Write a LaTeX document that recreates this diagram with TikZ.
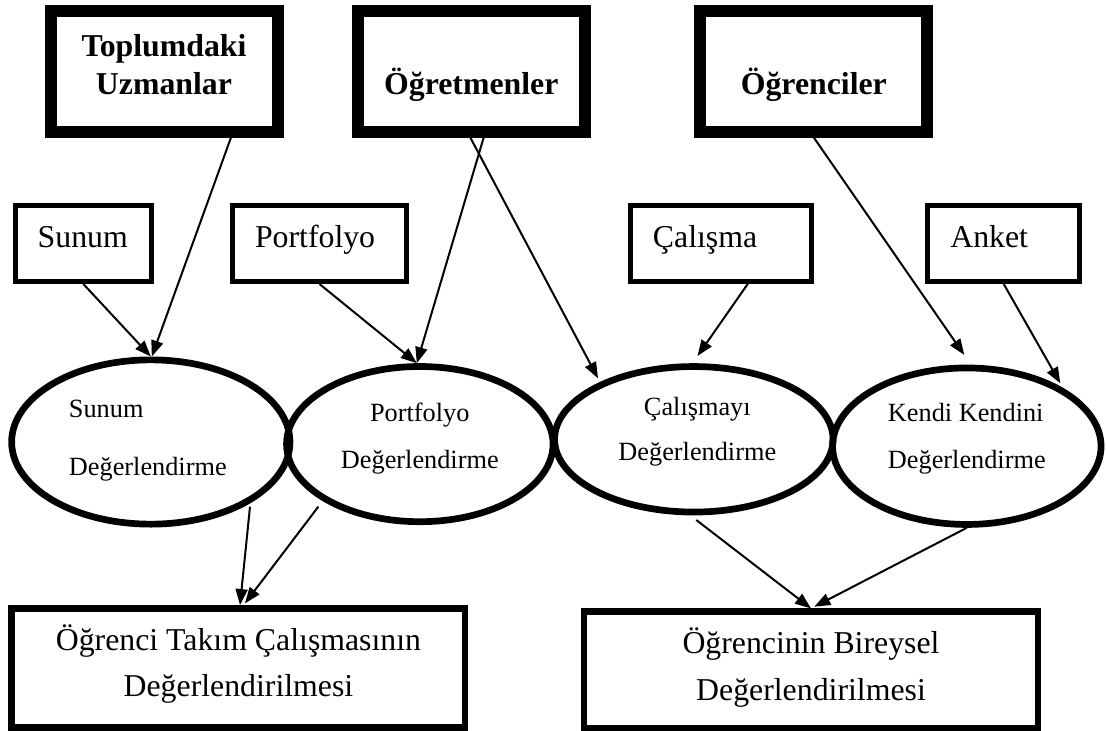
\documentclass[tikz,border=0pt]{standalone}
\usepackage{fontspec}
\setmainfont{Liberation Serif}
\usetikzlibrary{shapes.geometric,arrows.meta,calc}
\newcommand\mytab[2]{\begin{tabular}[b]{@{}#1@{}}#2\end{tabular}}
\begin{document}
\begin{tikzpicture}[x=1pt,y=-1pt,
  topbox/.style={draw,line width=12pt,rectangle,inner sep=0pt,minimum width=227pt,minimum height=120.5pt,font=\fontsize{31.8}{38.3}\selectfont\bfseries,text height=46.1pt,text depth=0pt},
  srcbox/.style={draw,line width=5pt,rectangle,inner xsep=22.5pt,inner ysep=0pt,minimum height=76.3pt,align=left,font=\fontsize{31.8}{38}\selectfont,text height=8.3pt,text depth=0pt},
  evalell/.style={draw,ellipse,line width=6.7pt,inner sep=0pt,font=\fontsize{26.3}{46.6}\selectfont,text depth=0pt},
  resbox/.style={draw,line width=6.5pt,rectangle,inner sep=0pt,font=\fontsize{31.8}{46.7}\selectfont,text depth=0pt},
  arr/.style={line width=2pt,-{Triangle[length=16pt,width=12pt]}}]
\useasboundingbox (0,0) rectangle (1106,731);

% top boxes
\node[topbox] (t1) at (164,71.25) {\mytab{c}{Toplumdaki\\Uzmanlar}};
\node[topbox] (t2) at (471.3,71.25) {Öğretmenler};
\node[topbox] (t3) at (813.8,71.25) {Öğrenciler};

% source boxes
\node[srcbox,text width=91.3pt] (s1) at (83.35,243.35) {Sunum};
\node[srcbox,text width=129pt] (s2) at (319.5,243.35) {Portfolyo};
\node[srcbox,text width=136.3pt] (s3) at (721.1,243.35) {Çalışma};
\node[srcbox,text width=106.7pt] (s4) at (1003.7,243.35) {Anket};

% ellipses
\node[evalell,minimum width=278.3pt,minimum height=164.3pt,text height=66pt,font=\fontsize{26.3}{57.3}\selectfont] (e1) at (150.8,442) {\begin{tabular}[b]{@{\hspace*{-6pt}}l@{}}Sunum\\Değerlendirme\end{tabular}};
\node[evalell,minimum width=266.5pt,minimum height=155.2pt,text height=48.4pt] (e2) at (419.8,444.1) {\mytab{c}{Portfolyo\\Değerlendirme}};
\node[evalell,minimum width=278.5pt,minimum height=145.5pt,text height=41.4pt,font=\fontsize{26.3}{45}\selectfont] (e3) at (693.8,439.3) {\begin{tabular}[b]{@{\hspace*{7pt}}c@{}}Çalışmayı\\Değerlendirme\end{tabular}};
\node[evalell,minimum width=268.5pt,minimum height=156.5pt,text height=44.2pt] (e4) at (966.8,446.2) {\mytab{l}{Kendi Kendini\\Değerlendirme}};

% result boxes
\node[resbox,minimum width=453.5pt,minimum height=119.2pt,text height=57.6pt] (b1) at (238.45,667.9) {\mytab{c}{Öğrenci Takım Çalışmasının\\Değerlendirilmesi}};
\node[resbox,minimum width=454pt,minimum height=116.3pt,text height=60.4pt] (b2) at (811,669.8) {\mytab{c}{Öğrencinin Bireysel\\Değerlendirilmesi}};

% connectors
\draw[arr] (s1.south) -- (e1.north);
\draw[arr] ([xshift=67pt]t1.south) -- ([xshift=1pt]e1.north);
\draw[arr] (s2.south) -- ([xshift=-3pt]e2.north);
\draw[arr] ([xshift=12.4pt]t2.south) -- ([xshift=-3pt]e2.north);
\draw[arr] ([xshift=-1pt]t2.south) -- ($(e3.center)+(-95.8,-61)$);
\draw[arr] ([xshift=26.6pt]s3.south) -- ($(e3.center)+(3.7,-83.3)$);
\draw[arr] (t3.south) -- ($(e4.center)+(-2.5,-91.2)$);
\draw[arr] (s4.south) -- ($(e4.center)+(93.5,-62.9)$);
\draw[arr] ($(e1.center)+(99.2,64.7)$) -- ([xshift=1.55pt]b1.north);
\draw[arr] ($(e2.center)+(-101.5,62.6)$) -- ($(b1.north)+(6.5,-1.7)$);
\draw[arr] ($(e3.south)+(2.5,4.6)$) -- (b2.north);
\draw[arr] (e4.south) -- ($(b2.north)+(3.3,-1.7)$);
\end{tikzpicture}
\end{document}
